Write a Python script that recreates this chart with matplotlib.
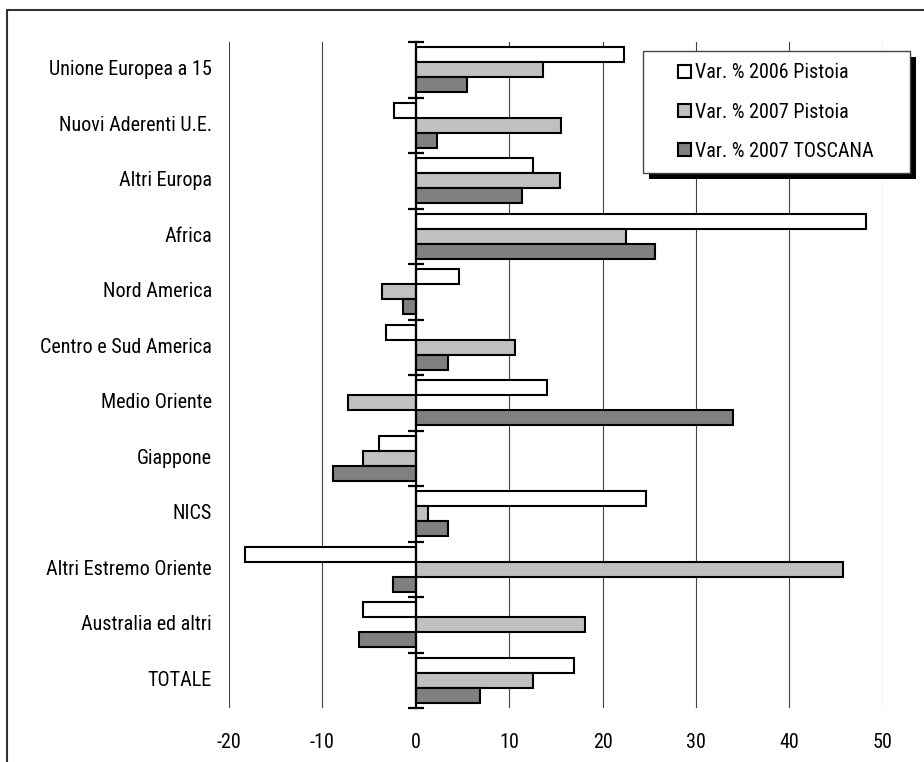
import numpy as np
import matplotlib
matplotlib.use("Agg")
import matplotlib.pyplot as plt
from matplotlib.patches import Rectangle
from matplotlib.legend_handler import HandlerPatch
from matplotlib.transforms import blended_transform_factory

plt.rcParams['font.family'] = ['Roboto Condensed', 'DejaVu Sans Condensed', 'Liberation Sans Narrow',
                               'Arial Narrow', 'Liberation Sans']
plt.rcParams['axes.unicode_minus'] = False

categories = ["Unione Europea a 15", "Nuovi Aderenti U.E.", "Altri Europa", "Africa",
              "Nord America", "Centro e Sud America", "Medio Oriente", "Giappone",
              "NICS", "Altri Estremo Oriente", "Australia ed altri", "TOTALE"]
var2006_pistoia = [22.3, -2.3, 12.5, 48.2, 4.6, -3.2, 14.0, -3.9, 24.6, -18.3, -5.7, 16.9]
var2007_pistoia = [13.6, 15.5, 15.4, 22.5, -3.6, 10.6, -7.3, -5.7, 1.3, 45.7, 18.1, 12.5]
var2007_toscana = [5.5, 2.3, 11.4, 25.6, -1.4, 3.4, 34.0, -8.9, 3.5, -2.4, -6.1, 6.9]
series_names = ["Var. % 2006 Pistoia", "Var. % 2007 Pistoia", "Var. % 2007 TOSCANA"]
xticks = [-20, -10, 0, 10, 20, 30, 40, 50]

fs = 14.5

fig = plt.figure(figsize=(9.24, 7.62), dpi=100)
ax = fig.add_axes([229/924, 1 - 708/762, 653.7/924, 666/762])

y = np.arange(len(categories))
h = 0.27
colors = ["white", "#c0c0c0", "#808080"]
series = [var2006_pistoia, var2007_pistoia, var2007_toscana]
bars = []
for k, (vals, col) in enumerate(zip(series, colors)):
    b = ax.barh(y + (k - 1) * h, vals, height=h, color=col, edgecolor="black",
                linewidth=1.5, zorder=3, label=series_names[k])
    bars.append(b)

ax.set_xlim(-20, 50)
ax.set_ylim(len(categories) - 0.5, -0.5)

# vertical gridlines, value axis at zero
for xv in xticks:
    if xv != 0:
        ax.axvline(xv, color="#444444", lw=0.8, zorder=1)
for s in ["top", "right", "bottom"]:
    ax.spines[s].set_visible(False)
ax.spines["left"].set_position(("data", 0))
ax.spines["left"].set_linewidth(1.6)
ax.spines["left"].set_zorder(4)

ax.set_yticks([])
ax.set_yticks(np.arange(-0.5, len(categories)), minor=True)
ax.tick_params(axis="y", which="minor", direction="inout", length=11, width=1.6)

ax.set_xticks(xticks)
ax.tick_params(axis="x", length=0, pad=18, labelsize=fs)

# category names sit at the left of the plot area
trans = blended_transform_factory(ax.transAxes, ax.transData)
for i, name in enumerate(categories):
    ax.text(-17/653.7, i, name, transform=trans, ha="right", va="center", fontsize=fs)


def square_handle(legend, orig_handle, xdescent, ydescent, width, height, fontsize):
    s = height
    return Rectangle((-xdescent + width - s, -ydescent), s, s)


handles = [b.patches[0] for b in bars]
sq = HandlerPatch(patch_func=square_handle)
leg = ax.legend(handles, series_names, loc="upper left",
                bbox_to_anchor=(643/924, 1 - 51/762 - 0.01, 267/924, 0.01),
                bbox_transform=fig.transFigure, mode="expand", fontsize=fs,
                frameon=True, fancybox=False, framealpha=1, borderaxespad=0,
                borderpad=0.62, labelspacing=1.0, handlelength=1.75, handleheight=0.58,
                handletextpad=0.2, handler_map={hd: sq for hd in handles})
leg.get_frame().set_edgecolor("#444444")
leg.get_frame().set_linewidth(1.0)
leg.set_zorder(6)

fig.canvas.draw()
bb = leg.get_window_extent()
shadow = Rectangle((bb.x0 + 6, bb.y0 - 6), bb.width, bb.height, facecolor="black",
                   edgecolor="none", transform=None, zorder=5.5, clip_on=False)
ax.add_artist(shadow)

# chart border
fig.patches.append(Rectangle((7/924, -0.1), 1.2, 1.1 - 10/762, transform=fig.transFigure,
                             fill=False, edgecolor="#333333", lw=1.5))

fig.savefig("out.png", dpi=100)
